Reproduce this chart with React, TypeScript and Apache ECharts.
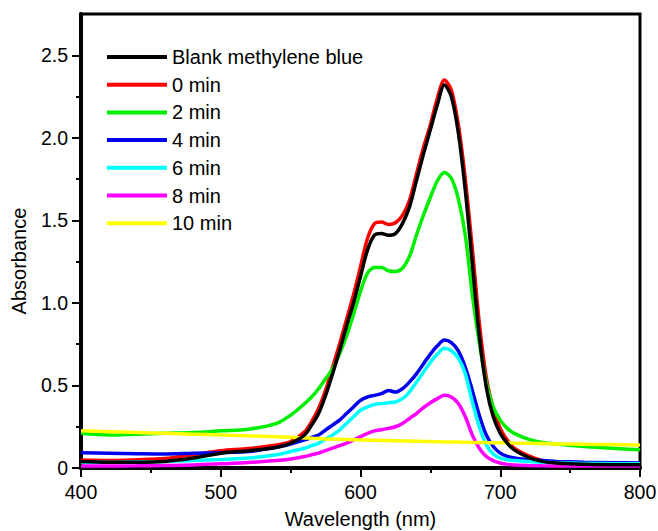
import { useEffect, useRef } from "react";
import * as echarts from "echarts";

const wavelengths = [400, 420, 440, 460, 480, 500, 520, 540, 550, 560, 565, 570, 575, 580, 585, 590, 595, 600, 605, 610, 615, 620, 625, 630, 635, 640, 645, 650, 655, 660, 665, 670, 675, 680, 685, 690, 695, 700, 705, 710, 720, 730, 740, 760, 780, 800];

const blank = [0.04, 0.035, 0.035, 0.04, 0.06, 0.09, 0.105, 0.125, 0.15, 0.2, 0.26, 0.33, 0.44, 0.57, 0.71, 0.86, 1.0, 1.16, 1.32, 1.41, 1.42, 1.41, 1.42, 1.48, 1.58, 1.74, 1.9, 2.05, 2.2, 2.32, 2.25, 2.03, 1.68, 1.24, 0.8, 0.49, 0.31, 0.21, 0.15, 0.11, 0.065, 0.04, 0.03, 0.022, 0.02, 0.02];
const min0 = [0.048, 0.045, 0.05, 0.058, 0.08, 0.105, 0.118, 0.14, 0.16, 0.22, 0.28, 0.36, 0.47, 0.61, 0.75, 0.9, 1.05, 1.22, 1.39, 1.48, 1.49, 1.475, 1.485, 1.53, 1.62, 1.78, 1.94, 2.08, 2.24, 2.35, 2.29, 2.08, 1.75, 1.33, 0.88, 0.55, 0.36, 0.24, 0.17, 0.12, 0.075, 0.045, 0.033, 0.025, 0.022, 0.02];
const min2 = [0.21, 0.2, 0.205, 0.21, 0.215, 0.225, 0.235, 0.27, 0.32, 0.39, 0.43, 0.48, 0.54, 0.6, 0.69, 0.8, 0.93, 1.07, 1.18, 1.215, 1.215, 1.195, 1.19, 1.21, 1.28, 1.41, 1.53, 1.64, 1.74, 1.79, 1.755, 1.63, 1.41, 1.05, 0.76, 0.52, 0.37, 0.29, 0.24, 0.21, 0.175, 0.155, 0.145, 0.13, 0.12, 0.11];
const min4 = [0.093, 0.09, 0.087, 0.085, 0.09, 0.093, 0.1, 0.125, 0.145, 0.17, 0.185, 0.2, 0.23, 0.26, 0.29, 0.33, 0.37, 0.41, 0.43, 0.44, 0.45, 0.47, 0.46, 0.48, 0.52, 0.57, 0.63, 0.69, 0.74, 0.775, 0.76, 0.71, 0.61, 0.47, 0.32, 0.2, 0.13, 0.09, 0.07, 0.06, 0.05, 0.045, 0.04, 0.035, 0.032, 0.03];
const min6 = [0.035, 0.035, 0.037, 0.04, 0.046, 0.052, 0.06, 0.08, 0.1, 0.12, 0.135, 0.15, 0.175, 0.2, 0.23, 0.27, 0.31, 0.35, 0.37, 0.385, 0.39, 0.395, 0.4, 0.42, 0.46, 0.52, 0.58, 0.64, 0.69, 0.725, 0.71, 0.665, 0.57, 0.4, 0.25, 0.14, 0.085, 0.06, 0.05, 0.045, 0.04, 0.035, 0.032, 0.028, 0.026, 0.025];
const min8 = [0.012, 0.012, 0.013, 0.015, 0.018, 0.025, 0.033, 0.045, 0.055, 0.07, 0.08, 0.09, 0.105, 0.12, 0.135, 0.15, 0.17, 0.19, 0.21, 0.225, 0.232, 0.24, 0.25, 0.27, 0.3, 0.33, 0.365, 0.395, 0.42, 0.44, 0.43, 0.39, 0.31, 0.2, 0.12, 0.07, 0.045, 0.03, 0.022, 0.018, 0.015, 0.013, 0.012, 0.012, 0.012, 0.012];
const min10 = [0.225, 0.22, 0.215, 0.21, 0.205, 0.2, 0.195, 0.19, 0.186, 0.182, 0.18, 0.178, 0.176, 0.175, 0.174, 0.172, 0.171, 0.17, 0.169, 0.168, 0.167, 0.166, 0.165, 0.164, 0.163, 0.162, 0.161, 0.16, 0.159, 0.158, 0.157, 0.157, 0.156, 0.155, 0.155, 0.154, 0.153, 0.153, 0.152, 0.151, 0.15, 0.148, 0.146, 0.144, 0.142, 0.14];

const legendNames = ["Blank methylene blue", "0 min", "2 min", "4 min", "6 min", "8 min", "10 min"];
const yMajorTicks = [0, 0.5, 1.0, 1.5, 2.0, 2.5];
const yMinorTicks = [0.25, 0.75, 1.25, 1.75, 2.25];

const FONT = "'Liberation Sans', Arial, Helvetica, sans-serif";

export default function App() {
  const ref = useRef<HTMLDivElement>(null);
  useEffect(() => {
    const chart = echarts.init(ref.current!, null, { renderer: "svg" });
    const mk = (name: string, vals: number[], color: string, z: number) => ({
      type: "line",
      name,
      data: wavelengths.map((w, i) => [w, vals[i]]),
      showSymbol: false,
      symbol: "none",
      smooth: 0.3,
      z,
      lineStyle: { color, width: 3.5 },
      itemStyle: { color },
    });
    chart.setOption({
      animation: false,
      textStyle: { fontFamily: FONT },
      grid: {
        left: 81,
        right: 18,
        top: 14,
        bottom: 63,
        containLabel: false,
        outerBoundsMode: "none",
        show: true,
        borderColor: "#000",
        borderWidth: 3,
      },
      legend: {
        data: legendNames,
        orient: "vertical",
        left: 107,
        top: 47,
        padding: 0,
        icon: "rect",
        itemWidth: 60,
        itemHeight: 4,
        itemGap: 7.7,
        textStyle: { fontSize: 20, color: "#000", fontFamily: FONT, lineHeight: 20 },
      },
      xAxis: {
        type: "value",
        min: 400,
        max: 800,
        interval: 100,
        name: "Wavelength (nm)",
        nameLocation: "middle",
        nameGap: 41,
        nameTextStyle: { fontSize: 20, color: "#000", fontFamily: FONT },
        axisLine: { show: true, onZero: false, lineStyle: { color: "#000", width: 4 } },
        axisTick: { show: true, inside: false, length: 9, lineStyle: { color: "#000", width: 2 } },
        minorTick: { show: true, splitNumber: 2, length: 5, lineStyle: { color: "#000", width: 2 } },
        axisLabel: { fontSize: 19.5, color: "#000", margin: 14, fontFamily: FONT },
        splitLine: { show: false },
        minorSplitLine: { show: false },
      },
      yAxis: [
        {
          type: "value",
          min: 0,
          max: 2.75,
          interval: 0.5,
          axisLine: { show: true, onZero: false, lineStyle: { color: "#000", width: 4 } },
          axisTick: { show: true, inside: false, length: 9, customValues: yMajorTicks, lineStyle: { color: "#000", width: 2 } },
          axisLabel: {
            fontSize: 19.5,
            color: "#000",
            margin: 13,
            fontFamily: FONT,
            customValues: yMajorTicks,
            formatter: (v: number) => (v === 0 ? "0" : v.toFixed(1)),
          },
          splitLine: { show: false },
        },
        {
          type: "value",
          min: 0,
          max: 2.75,
          position: "left",
          offset: 0,
          axisLine: { show: false },
          axisTick: { show: true, inside: false, length: 5, customValues: yMinorTicks, lineStyle: { color: "#000", width: 2 } },
          axisLabel: { show: false },
          splitLine: { show: false },
        },
      ],
      graphic: [
        {
          type: "text",
          x: 19,
          y: 261,
          rotation: Math.PI / 2,
          style: {
            text: "Absorbance",
            fontSize: 20,
            fontFamily: FONT,
            fill: "#000",
            align: "center",
            verticalAlign: "middle",
          },
        },
      ],
      series: [
        mk("0 min", min0, "#ff0000", 2),
        mk("Blank methylene blue", blank, "#000000", 3),
        mk("2 min", min2, "#00ee00", 2),
        mk("4 min", min4, "#0000ee", 2),
        mk("6 min", min6, "#00ffff", 2),
        mk("8 min", min8, "#ff00ff", 2),
        mk("10 min", min10, "#ffff00", 2),
      ],
    });
    return () => chart.dispose();
  }, []);
  return <div ref={ref} style={{ position: "absolute", left: 0, top: 0, width: 658, height: 531 }} />;
}
